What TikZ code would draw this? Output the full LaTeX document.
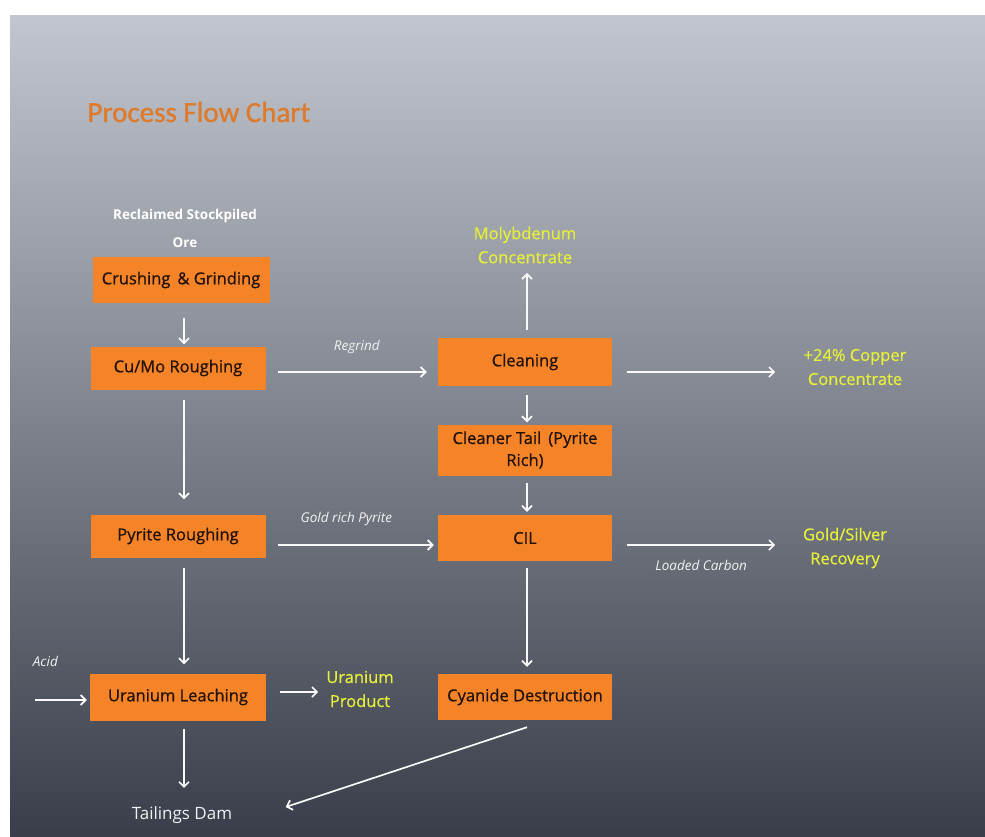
\documentclass[tikz,border=0pt]{standalone}
\usepackage{fontspec}
\setmainfont{Open Sans}
\newfontfamily\titlefont[FakeBold=1]{Carlito}
\newfontfamily\boxfont[FakeBold=0.8]{Open Sans}
\usetikzlibrary{arrows.meta,calc}

\definecolor{boxorange}{HTML}{F58428}
\definecolor{titleorange}{HTML}{DD7A2C}
\definecolor{prodyellow}{HTML}{E6EF3A}
\definecolor{boxtext}{HTML}{22120A}
\definecolor{bgtop}{HTML}{C2C6CE}
\definecolor{bgmid}{HTML}{8E929B}
\definecolor{bgbot}{HTML}{393E4A}

\begin{document}
\begin{tikzpicture}[x=1pt,y=-1pt,
  unit/.style={fill=boxorange, text=boxtext, font=\boxfont\fontsize{16.5}{22}\selectfont,
    minimum width=175pt, minimum height=45pt, inner sep=2pt, align=center},
  prod/.style={text=prodyellow, font=\boxfont\fontsize{16.5}{24}\selectfont, align=center},
  feed/.style={text=white, font=\bfseries\fontsize{13.5}{28}\selectfont, align=center},
  lbl/.style={text=white!90!gray, font=\itshape\fontsize{13.5}{14}\selectfont},
  flow/.style={draw=white!95!gray, line width=1.7pt, -{Straight Barb[length=5pt,width=10pt]}}]

  % achtergrond
  \useasboundingbox (0,0) rectangle (985,836);
  \fill[white] (0,0) rectangle (985,836);
  \shade[top color=bgtop, middle color=bgmid, bottom color=bgbot] (10,15) rectangle (985,836);

  % titel
  \node[text=titleorange, font=\titlefont\fontsize{29}{32}\selectfont, anchor=west] (title) at (84,112) {Process Flow Chart};

  % linker kolom
  \node[feed] (ore) at (185,228) {Reclaimed Stockpiled\\Ore};
  \node[unit, minimum width=177pt, minimum height=46pt] (crush) at (181,280) {Crushing \,\& Grinding};
  \node[unit, minimum height=43pt] (rough) at (178,368) {Cu/Mo Roughing};
  \node[unit, minimum height=43pt] (pyrite) at (178,536) {Pyrite Roughing};
  \node[unit, minimum width=176pt, minimum height=47pt] (leach) at (178,697) {Uranium Leaching};
  \node[text=white!88!gray, font=\fontsize{17}{19}\selectfont] (dam) at (182,815) {Tailings Dam};

  % rechter kolom
  \node[unit, minimum width=174pt, minimum height=48pt] (clean) at (525,362) {Cleaning};
  \node[unit, minimum width=174pt, minimum height=51pt, font=\boxfont\fontsize{16.5}{22}\selectfont] (tail) at (525,450) {Cleaner Tail \,(Pyrite\\Rich)};
  \node[unit, minimum width=174pt, minimum height=46pt] (cil) at (525,538) {CIL};
  \node[unit, minimum width=174pt, minimum height=46pt] (cyan) at (525,697) {Cyanide Destruction};

  % producten
  \node[prod] (moly) at (525,245) {Molybdenum\\Concentrate};
  \node[prod] (copper) at (855,367) {+24\% Copper\\Concentrate};
  \node[prod] (gold) at (845,548) {Gold/Silver\\Recovery};
  \node[prod] (uran) at (360,689) {Uranium\\Product};
  \coordinate (acid) at (35,700);

  % stromen
  \draw[flow] ($(crush.south)+(3,15)$) -- ($(rough.north)+(6,-2)$);
  \draw[flow] ($(rough.south)+(6,10)$) -- ($(pyrite.north)+(6,-15)$);
  \draw[flow] ($(pyrite.south)+(6,10)$) -- ($(leach.north)+(6,-9)$);
  \draw[flow] ($(leach.south)+(6,8)$) -- ($(dam.north)+(2,-15)$);
  \draw[flow] ($(rough.east)+(12,4)$) -- ($(clean.west)+(-11,10)$)
    node[lbl, pos=0.53, above=14pt] (regrind) {Regrind};
  \draw[flow] ($(pyrite.east)+(12,9)$) -- ($(cil.west)+(-4,7)$)
    node[lbl, pos=0.44, above=15pt] (gp) {Gold rich Pyrite};
  \draw[flow] ($(clean.north)+(2,-8)$) -- ($(moly.south)+(2,6)$);
  \draw[flow] ($(clean.east)+(15,10)$) -- ($(clean.east)+(163,10)$);
  \draw[flow] ($(clean.south)+(2,9)$) -- ($(tail.north)+(2,-2)$);
  \draw[flow] ($(tail.south)+(2,7)$) -- ($(cil.north)+(2,-3)$);
  \draw[flow] ($(cil.east)+(15,7)$) -- ($(cil.east)+(163,7)$)
    node[lbl, midway, below=11pt] (carbon) {Loaded Carbon};
  \draw[flow] ($(cil.south)+(2,7)$) -- ($(cyan.north)+(2,-7)$);
  \draw[flow] (acid) -- ($(leach.west)+(-3,3)$)
    node[lbl, pos=0.2, above=29pt] (acidlbl) {Acid};
  \draw[flow] ($(leach.east)+(14,-5)$) -- ($(leach.east)+(52,-5)$);
  \draw[flow] ($(cyan.south)+(2,7)$) -- ($(dam.east)+(50,-8)$);

\end{tikzpicture}
\end{document}
